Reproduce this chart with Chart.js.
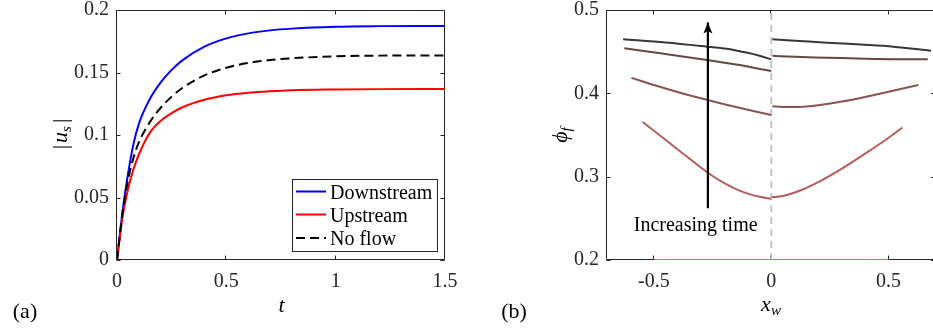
<!DOCTYPE html>
<html><head><meta charset="utf-8">
<script src="https://cdn.jsdelivr.net/npm/chart.js@4/dist/chart.umd.min.js"></script>
<style>
html,body{margin:0;padding:0;background:#fff;overflow:hidden;width:933px;height:331px;}
canvas{position:absolute;top:0;}
#ca{left:0;} #cb{left:480px;}
</style></head><body>
<canvas id="ca" width="470" height="331"></canvas>
<canvas id="cb" width="470" height="331"></canvas>
<script>
// ---------- Panel (a) data ----------
const tA = [0, 0.025, 0.05, 0.075, 0.1, 0.15, 0.2, 0.25, 0.3, 0.4, 0.5, 0.6, 0.7, 0.8, 1.0, 1.2, 1.5];
const downstream = [0, 0.0385, 0.0685, 0.0925, 0.1089, 0.1287, 0.1421, 0.1521, 0.1599, 0.1707, 0.1773, 0.1813, 0.1837, 0.1851, 0.1866, 0.1871, 0.1873];
const upstream   = [0, 0.0344, 0.0563, 0.0725, 0.0844, 0.1017, 0.1113, 0.1175, 0.1222, 0.1282, 0.1318, 0.1338, 0.1350, 0.1358, 0.1364, 0.1367, 0.1368];
const noFlow     = [0, 0.0370, 0.0635, 0.0816, 0.0941, 0.1103, 0.1218, 0.1307, 0.1378, 0.1477, 0.1538, 0.1576, 0.1600, 0.1614, 0.1629, 0.1635, 0.1637];
const seriesNamesA = ['Downstream', 'Upstream', 'No flow'];
const xTicksA = [0, 0.5, 1, 1.5];
const xTickLabelsA = ['0', '0.5', '1', '1.5'];
const yTicksA = [0, 0.05, 0.1, 0.15, 0.2];
const yTickLabelsA = ['0', '0.05', '0.1', '0.15', '0.2'];

// ---------- Panel (b) data (five times, left and right of x_w = 0) ----------
const xL0 = [-0.5, -0.002], yL0 = [0.2, 0.2];
const xR0 = [0.002, 0.5],   yR0 = [0.2, 0.2];
const xL1 = [-0.548, -0.5, -0.4, -0.3, -0.25, -0.2, -0.15, -0.1, -0.05, 0];
const yL1 = [0.3656, 0.355, 0.333, 0.311, 0.3008, 0.2922, 0.2851, 0.2797, 0.2758, 0.2735];
const xR1 = [0.003, 0.035, 0.07, 0.137, 0.2, 0.28, 0.35, 0.421, 0.49, 0.559];
const yR1 = [0.2755, 0.2763, 0.2783, 0.2849, 0.2934, 0.3061, 0.3184, 0.3315, 0.3446, 0.359];
const xL2 = [-0.596, -0.5, -0.4, -0.3, -0.2, -0.1, 0];
const yL2 = [0.4186, 0.41, 0.4017, 0.394, 0.3869, 0.3803, 0.374];
const xR2 = [0.005, 0.05, 0.1, 0.15, 0.2, 0.3, 0.4, 0.5, 0.627];
const yR2 = [0.3845, 0.3837, 0.3836, 0.3842, 0.3856, 0.3901, 0.3957, 0.4018, 0.41];
const xL3 = [-0.626, -0.472, -0.274, -0.15, -0.07, 0];
const yL3 = [0.454, 0.448, 0.44, 0.4345, 0.4305, 0.4268];
const xR3 = [0.005, 0.1, 0.237, 0.4, 0.52, 0.667];
const yR3 = [0.445, 0.4438, 0.4428, 0.4415, 0.441, 0.441];
const xL4 = [-0.631, -0.45, -0.274, -0.2, -0.15, -0.1, -0.05, 0];
const yL4 = [0.4648, 0.461, 0.456, 0.4537, 0.4515, 0.4486, 0.445, 0.4408];
const xR4 = [0.005, 0.1, 0.237, 0.38, 0.52, 0.681];
const yR4 = [0.4648, 0.4632, 0.4608, 0.4585, 0.456, 0.4512];
const curveColors = ['#dc6a6a', '#b65c5c', '#8a5252', '#634848', '#383838'];
const divideX = [0, 0], divideY = [0.2, 0.5];
const arrowX = [-0.27, -0.27], arrowY = [0.262, 0.485];
const annotText = 'Increasing time', annotX = -0.322, annotY = 0.2348;
const xTicksB = [-0.5, 0, 0.5];
const xTickLabelsB = ['-0.5', '0', '0.5'];
const yTicksB = [0.2, 0.3, 0.4, 0.5];
const yTickLabelsB = ['0.2', '0.3', '0.4', '0.5'];

// ---------- helpers ----------
const SERIF = "'Liberation Serif', 'Times New Roman', serif";
const AXC = '#262626';
const pts = (xs, ys) => xs.map((x, i) => ({x: x, y: ys[i]}));

function drawParts(ctx, parts, cx, cy, rot) {
  ctx.save();
  ctx.translate(cx, cy);
  ctx.rotate(rot);
  let w = 0;
  parts.forEach(p => { ctx.font = p.font; p.w = ctx.measureText(p.t).width + (p.gap || 0); w += p.w; });
  let x = -w / 2;
  ctx.textAlign = 'left'; ctx.textBaseline = 'alphabetic'; ctx.fillStyle = '#000';
  parts.forEach(p => { ctx.font = p.font; ctx.fillText(p.t, x, p.dy); x += p.w; });
  ctx.restore();
}

const boxPlugin = {
  id: 'boxTicks',
  beforeDatasetsDraw(chart) {
    const {ctx, chartArea: a, scales: {x, y}} = chart;
    ctx.save();
    ctx.strokeStyle = AXC; ctx.lineWidth = 1;
    const L = a.left - 0.5, R = a.right - 0.5, T = a.top + 0.5, B = a.bottom - 0.5;
    ctx.beginPath();
    ctx.moveTo(L, T); ctx.lineTo(R, T); ctx.lineTo(R, B); ctx.lineTo(L, B); ctx.closePath();
    const tl = 4;
    x.ticks.forEach(t => {
      const px = Math.round(x.getPixelForValue(t.value)) - 0.5;
      ctx.moveTo(px, B); ctx.lineTo(px, B - tl);
      ctx.moveTo(px, T); ctx.lineTo(px, T + tl);
    });
    y.ticks.forEach(t => {
      const py = Math.round(y.getPixelForValue(t.value)) + 0.5;
      ctx.moveTo(L, py); ctx.lineTo(L + tl, py);
      ctx.moveTo(R, py); ctx.lineTo(R - tl, py);
    });
    ctx.stroke();
    ctx.restore();
  }
};

function scaleOpts(min, max, ticks, labels, isX, size) {
  return {
    type: 'linear', min: min, max: max,
    afterBuildTicks: s => { s.ticks = ticks.map(v => ({value: v})); },
    afterFit: s => {
      if (isX) { s.height = size; s.paddingLeft = 0; s.paddingRight = 0; }
      else { s.width = size; s.paddingTop = 0; s.paddingBottom = 0; }
    },
    grid: {display: false, drawTicks: false},
    border: {display: false},
    ticks: {
      padding: isX ? 10 : 8, color: AXC, autoSkip: false, maxRotation: 0,
      font: {family: SERIF, size: 20},
      callback: (v, i) => labels[i]
    }
  };
}

// ---------- Panel (a) ----------
const legendA = {
  id: 'legendA',
  afterDatasetsDraw(chart) {
    const {ctx, chartArea: a} = chart;
    const bx = a.right - 153, by = a.bottom - 81, bw = 145, bh = 72;
    ctx.save();
    ctx.fillStyle = '#fff';
    ctx.fillRect(bx, by, bw, bh);
    ctx.strokeStyle = AXC; ctx.lineWidth = 1;
    ctx.strokeRect(bx + 0.5, by + 0.5, bw, bh);
    const rows = [12.5, 35.5, 59];
    seriesNamesA.forEach((name, i) => {
      const ds = chart.data.datasets.find(d => d.label === name);
      const yy = by + rows[i];
      ctx.strokeStyle = ds.borderColor; ctx.lineWidth = ds.borderWidth;
      ctx.setLineDash(ds.borderDash || []);
      ctx.beginPath(); ctx.moveTo(bx + 4, yy); ctx.lineTo(bx + 34, yy); ctx.stroke();
      ctx.setLineDash([]);
      ctx.fillStyle = '#000';
      ctx.font = '20px ' + SERIF;
      ctx.textAlign = 'left'; ctx.textBaseline = 'alphabetic';
      ctx.fillText(name, bx + 38, yy + 7);
    });
    ctx.restore();
  }
};
const textsA = {
  id: 'textsA',
  afterDraw(chart) {
    const ctx = chart.ctx;
    const it = 'italic 22px ' + SERIF, sub = 'italic 15px ' + SERIF, up = '22px ' + SERIF;
    drawParts(ctx, [{t: '|', font: up, dy: 5, gap: 2}, {t: 'u', font: it, dy: 5}, {t: 's', font: sub, dy: 9, gap: 3}, {t: '|', font: up, dy: 5}], 61.5, 134, -Math.PI / 2);
    drawParts(ctx, [{t: 't', font: it, dy: 0}], 281.5, 312, 0);
    drawParts(ctx, [{t: '(a)', font: '22px ' + SERIF, dy: 0}], 25, 318, 0);
  }
};

new Chart(document.getElementById('ca'), {
  type: 'line',
  data: {datasets: [
    {label: seriesNamesA[0], data: pts(tA, downstream), borderColor: '#0000ff', borderWidth: 2, pointRadius: 0, cubicInterpolationMode: 'monotone', order: 2},
    {label: seriesNamesA[1], data: pts(tA, upstream), borderColor: '#ff0000', borderWidth: 2, pointRadius: 0, cubicInterpolationMode: 'monotone', order: 1},
    {label: seriesNamesA[2], data: pts(tA, noFlow), borderColor: '#000000', borderWidth: 2, borderDash: [9, 5], pointRadius: 0, cubicInterpolationMode: 'monotone', order: 0}
  ]},
  options: {
    responsive: false, animation: false, devicePixelRatio: 1,
    layout: {padding: {top: 10, right: 25, left: 0, bottom: 0}},
    plugins: {legend: {display: false}, tooltip: {enabled: false}},
    scales: {
      x: scaleOpts(0, 1.5, xTicksA, xTickLabelsA, true, 71),
      y: scaleOpts(0, 0.2, yTicksA, yTickLabelsA, false, 117)
    }
  },
  plugins: [boxPlugin, legendA, textsA]
});

// ---------- Panel (b) ----------
const textsB = {
  id: 'textsB',
  afterDatasetsDraw(chart) {
    const {ctx, scales: {x, y}} = chart;
    const ds = chart.data.datasets.find(d => d.label === 'arrow');
    const px = x.getPixelForValue(ds.data[1].x), py = y.getPixelForValue(ds.data[1].y);
    ctx.save();
    ctx.fillStyle = '#000';
    ctx.beginPath();
    ctx.moveTo(px, py); ctx.lineTo(px - 4.5, py + 11); ctx.lineTo(px, py + 8.5); ctx.lineTo(px + 4.5, py + 11); ctx.closePath();
    ctx.fill();
    ctx.font = '20px ' + SERIF;
    ctx.textAlign = 'center'; ctx.textBaseline = 'alphabetic';
    ctx.fillText(annotText, x.getPixelForValue(annotX), y.getPixelForValue(annotY));
    ctx.restore();
  },
  afterDraw(chart) {
    const ctx = chart.ctx;
    const it = 'italic 22px ' + SERIF, sub = 'italic 15px ' + SERIF;
    drawParts(ctx, [{t: 'ϕ', font: it, dy: 5}, {t: 'f', font: sub, dy: 9}], 557 - 480 + 5, 135, -Math.PI / 2);
    drawParts(ctx, [{t: 'x', font: it, dy: 0}, {t: 'w', font: sub, dy: 4}], 771 - 480, 311, 0);
    drawParts(ctx, [{t: '(b)', font: '22px ' + SERIF, dy: 0}], 514 - 480, 318, 0);
  }
};

const levels = [[xL0, yL0, xR0, yR0], [xL1, yL1, xR1, yR1], [xL2, yL2, xR2, yR2], [xL3, yL3, xR3, yR3], [xL4, yL4, xR4, yR4]];
const dsB = [{label: 'arrow', data: pts(arrowX, arrowY), borderColor: '#000', borderWidth: 2.2, pointRadius: 0}];
levels.forEach((lv, i) => {
  dsB.push({label: 'L' + i, data: pts(lv[0], lv[1]), borderColor: curveColors[i], borderWidth: 2, pointRadius: 0, cubicInterpolationMode: 'monotone'});
  dsB.push({label: 'R' + i, data: pts(lv[2], lv[3]), borderColor: curveColors[i], borderWidth: 2, pointRadius: 0, cubicInterpolationMode: 'monotone'});
});
dsB.push({label: 'divide', data: pts(divideX, divideY), borderColor: '#c4c4c4', borderWidth: 2, borderDash: [7, 5], pointRadius: 0});

new Chart(document.getElementById('cb'), {
  type: 'line',
  data: {datasets: dsB},
  options: {
    responsive: false, animation: false, devicePixelRatio: 1,
    layout: {padding: {top: 10, right: 14.5, left: 0, bottom: 0}},
    plugins: {legend: {display: false}, tooltip: {enabled: false}},
    scales: {
      x: scaleOpts(-0.7, 0.7, xTicksB, xTickLabelsB, true, 71),
      y: scaleOpts(0.2, 0.5, yTicksB, yTickLabelsB, false, 127)
    }
  },
  plugins: [boxPlugin, textsB]
});
</script>
</body></html>
